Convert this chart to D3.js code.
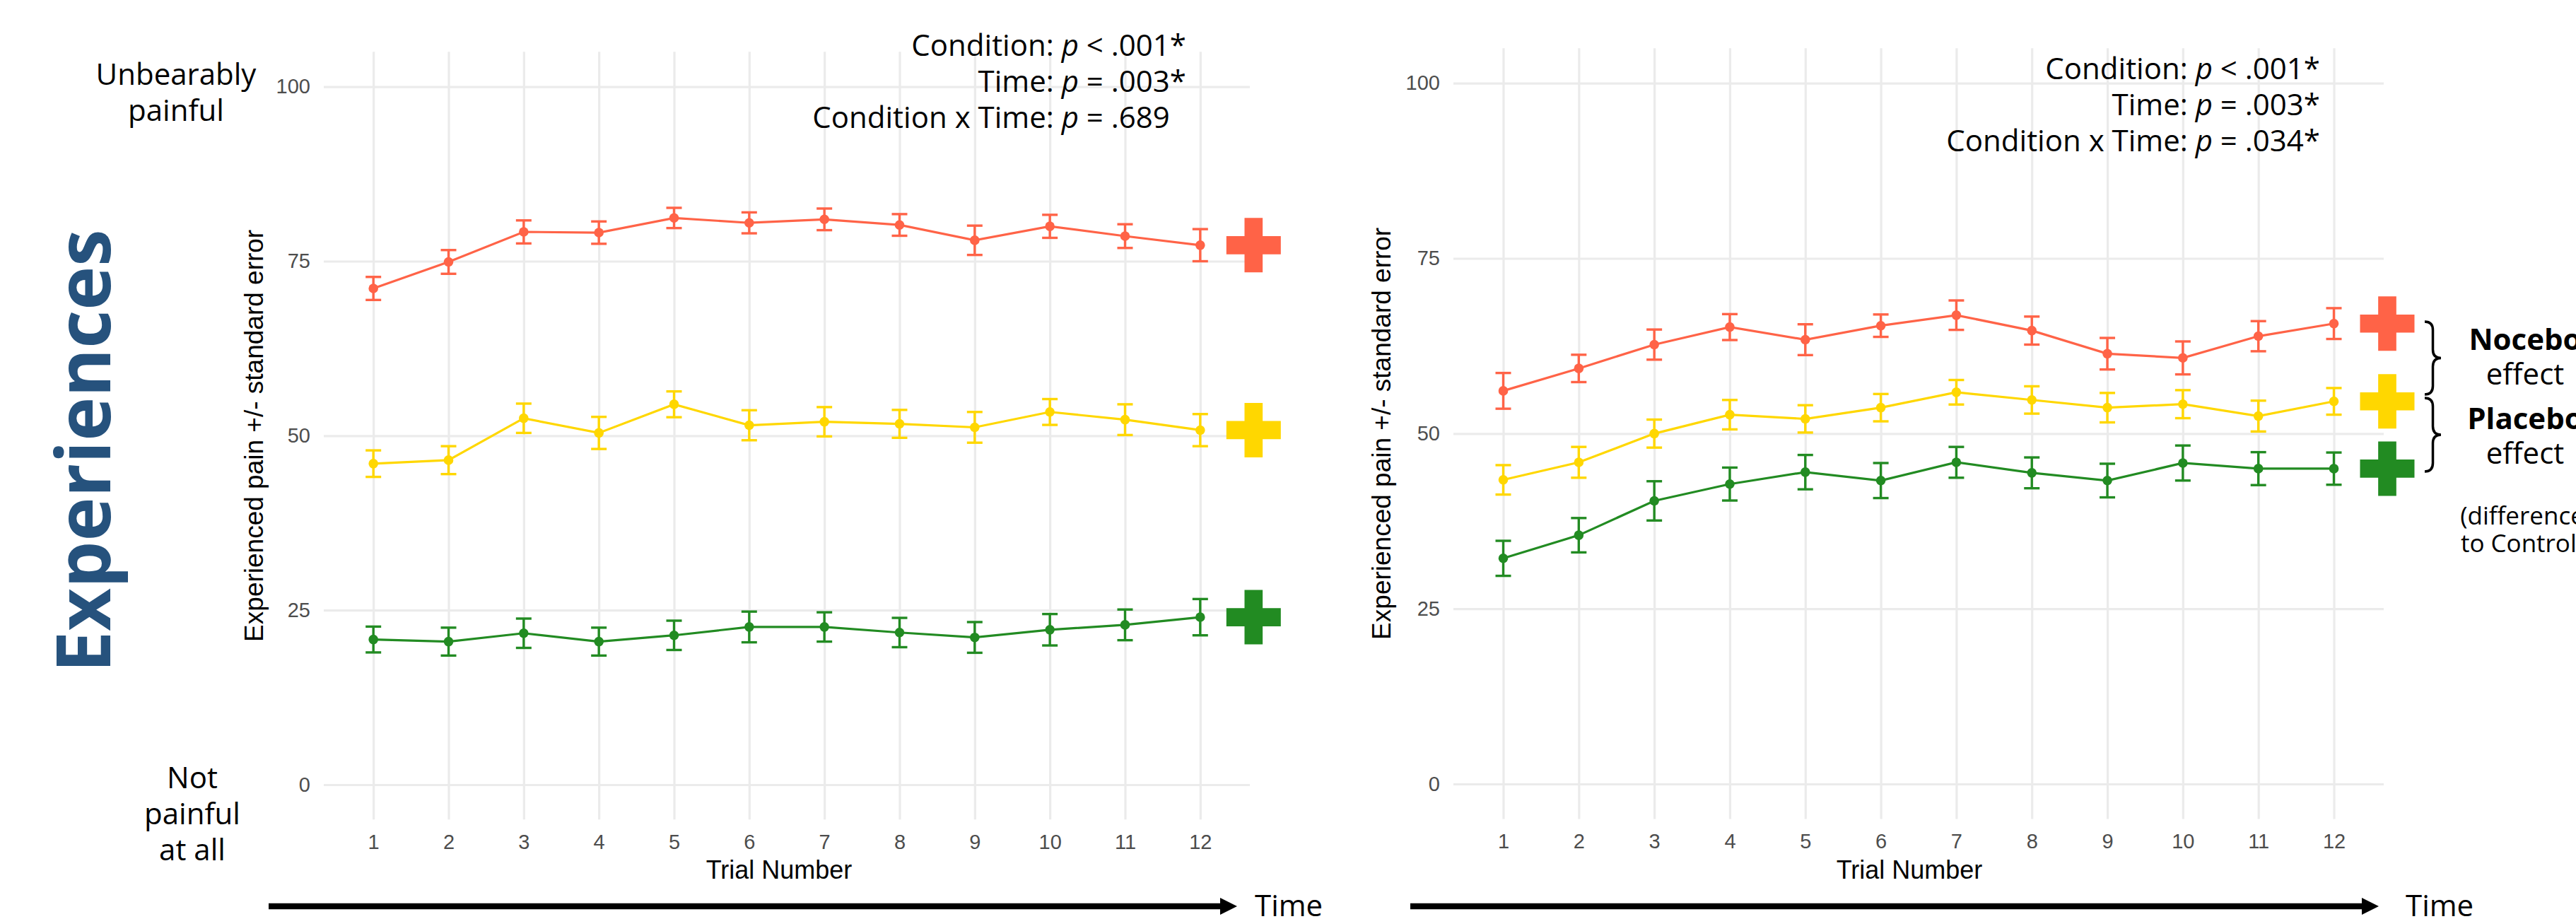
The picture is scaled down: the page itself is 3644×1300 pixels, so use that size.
<!DOCTYPE html>
<html>
<head>
<meta charset="utf-8">
<script src="https://cdn.jsdelivr.net/npm/d3@7"></script>
<style>
  html, body { margin: 0; padding: 0; background: #ffffff; }
  svg { display: block; }
</style>
</head>
<body>
<svg id="chart" width="3644" height="1300"></svg>
<script>
// ---------------- DATA ----------------
const trials = [1, 2, 3, 4, 5, 6, 7, 8, 9, 10, 11, 12];
const yTicks = [0, 25, 50, 75, 100];
const conditions = ["Nocebo", "Placebo", "Control"];
const conditionColors = ["#FF6347", "#FFD700", "#228B22"];

// Left panel (Condition x Time: p = .689)
const leftNocebo    = [71.1, 74.9, 79.2, 79.1, 81.2, 80.5, 81.0, 80.2, 78.0, 80.0, 78.6, 77.3];
const leftNoceboSE  = [1.65, 1.70, 1.65, 1.60, 1.45, 1.50, 1.55, 1.55, 2.10, 1.65, 1.70, 2.30];
const leftPlacebo   = [46.0, 46.5, 52.5, 50.4, 54.5, 51.5, 52.0, 51.7, 51.2, 53.4, 52.3, 50.8];
const leftPlaceboSE = [1.90, 2.00, 2.10, 2.30, 1.85, 2.15, 2.10, 2.00, 2.20, 1.85, 2.20, 2.30];
const leftControl   = [20.8, 20.5, 21.7, 20.5, 21.4, 22.6, 22.6, 21.8, 21.1, 22.2, 22.9, 24.0];
const leftControlSE = [1.85, 2.00, 2.10, 2.00, 2.10, 2.20, 2.10, 2.10, 2.20, 2.25, 2.20, 2.60];

// Right panel (Condition x Time: p = .034*)
const rightNocebo    = [56.1, 59.3, 62.7, 65.2, 63.4, 65.4, 66.9, 64.7, 61.4, 60.8, 63.9, 65.7];
const rightNoceboSE  = [2.55, 1.95, 2.15, 1.85, 2.20, 1.60, 2.10, 2.00, 2.25, 2.35, 2.15, 2.20];
const rightPlacebo   = [43.4, 45.9, 50.0, 52.7, 52.1, 53.7, 55.9, 54.8, 53.7, 54.2, 52.5, 54.6];
const rightPlaceboSE = [2.10, 2.20, 2.00, 2.10, 1.95, 1.95, 1.75, 1.95, 2.10, 2.00, 2.20, 1.90];
const rightControl   = [32.2, 35.5, 40.4, 42.8, 44.5, 43.3, 45.9, 44.4, 43.3, 45.8, 45.0, 45.0];
const rightControlSE = [2.50, 2.45, 2.80, 2.35, 2.45, 2.50, 2.20, 2.20, 2.40, 2.50, 2.35, 2.30];

const leftStats  = ["Condition: |p| < .001*", "Time: |p| = .003*", "Condition x Time: |p| = .689"];
const rightStats = ["Condition: |p| < .001*", "Time: |p| = .003*", "Condition x Time: |p| = .034*"];

const xTitle = "Trial Number";
const yTitle = "Experienced pain +/- standard error";

// ---------------- DRAWING ----------------
const svg = d3.select("#chart");
const ARIAL = "'Liberation Sans', Arial, sans-serif";
const OPEN = "'Open Sans', 'Noto Sans', sans-serif";

function drawPanel(cfg) {
  const g = svg.append("g");
  const x = d3.scaleLinear().domain([0.34, 12.66]).range([cfg.x0, cfg.x1]);
  const y = d3.scaleLinear().domain([0, 100]).range([cfg.y0, cfg.y100]);
  const top = y(105), bottom = y(-5);

  // horizontal grid + y labels
  const yAxis = d3.axisLeft(y).tickValues(yTicks).tickSize(-(cfg.x1 - cfg.x0)).tickPadding(19);
  const ya = g.append("g").attr("transform", `translate(${cfg.x0},0)`).call(yAxis);
  ya.select(".domain").remove();
  ya.selectAll(".tick line").attr("stroke", "#EBEBEB").attr("stroke-width", 3.2);
  ya.selectAll(".tick text").attr("font-family", ARIAL).attr("font-size", 29).attr("fill", "#4D4D4D");

  // vertical grid + x labels
  const xAxis = d3.axisBottom(x).tickValues(trials).tickSize(-(bottom - top)).tickPadding(21);
  const xa = g.append("g").attr("transform", `translate(0,${bottom})`).call(xAxis);
  xa.select(".domain").remove();
  xa.selectAll(".tick line").attr("stroke", "#EBEBEB").attr("stroke-width", 3.2);
  xa.selectAll(".tick text").attr("font-family", ARIAL).attr("font-size", 29).attr("fill", "#4D4D4D");

  // axis titles
  g.append("text").attr("x", cfg.xTitleX).attr("y", 1243)
    .attr("text-anchor", "middle").attr("font-family", ARIAL).attr("font-size", 36)
    .attr("fill", "#000").text(xTitle);
  g.append("text")
    .attr("transform", `translate(${cfg.yTitleX},${(top + bottom) / 2}) rotate(-90)`)
    .attr("text-anchor", "middle").attr("font-family", ARIAL).attr("font-size", 37)
    .attr("fill", "#000").text(yTitle);

  // series
  cfg.series.forEach((s, i) => {
    const col = conditionColors[i];
    const pts = trials.map((t, k) => ({ t, m: s.mean[k], se: s.se[k] }));
    const sg = g.append("g");
    // error bars
    const eb = sg.selectAll(".eb").data(pts).enter().append("g");
    eb.append("line").attr("x1", d => x(d.t)).attr("x2", d => x(d.t))
      .attr("y1", d => y(d.m - d.se)).attr("y2", d => y(d.m + d.se))
      .attr("stroke", col).attr("stroke-width", 3.4);
    eb.append("line").attr("x1", d => x(d.t) - 11).attr("x2", d => x(d.t) + 11)
      .attr("y1", d => y(d.m - d.se)).attr("y2", d => y(d.m - d.se))
      .attr("stroke", col).attr("stroke-width", 3.4);
    eb.append("line").attr("x1", d => x(d.t) - 11).attr("x2", d => x(d.t) + 11)
      .attr("y1", d => y(d.m + d.se)).attr("y2", d => y(d.m + d.se))
      .attr("stroke", col).attr("stroke-width", 3.4);
    // line
    sg.append("path").datum(pts)
      .attr("d", d3.line().x(d => x(d.t)).y(d => y(d.m)))
      .attr("fill", "none").attr("stroke", col).attr("stroke-width", 3.2);
    // points
    sg.selectAll("circle").data(pts).enter().append("circle")
      .attr("cx", d => x(d.t)).attr("cy", d => y(d.m)).attr("r", 6.8).attr("fill", col);
    // cross marker at end
    const last = pts[pts.length - 1];
    sg.append("path")
      .attr("d", d3.symbol(d3.symbolCross, 3294)())
      .attr("transform", `translate(${x(last.t) + 75.5},${y(last.m)})`)
      .attr("fill", col);
  });

  // stats annotation (right-aligned, italic p)
  const starProbe = svg.append("text").attr("font-family", OPEN).attr("font-size", 42).text("*");
  const starW = starProbe.node().getComputedTextLength();
  starProbe.remove();
  const st = g.append("text")
    .attr("text-anchor", "end").attr("font-family", OPEN).attr("font-size", 42).attr("fill", "#000");
  cfg.stats.forEach((line, i) => {
    const parts = line.split("|");
    const hasStar = line.endsWith("*");
    const t = st.append("tspan")
      .attr("x", hasStar ? cfg.statX : cfg.statX - starW)
      .attr("y", cfg.statY + i * 50.8);
    t.append("tspan").text(parts[0]);
    t.append("tspan").attr("font-style", "italic").text(parts[1]);
    t.append("tspan").text(parts[2]);
  });

  // time arrow
  g.append("line").attr("x1", cfg.arrowX0).attr("x2", cfg.arrowX1 - 20)
    .attr("y1", 1282).attr("y2", 1282).attr("stroke", "#000").attr("stroke-width", 8.5);
  g.append("path")
    .attr("d", `M${cfg.arrowX1},1282 L${cfg.arrowX1 - 24},1270 L${cfg.arrowX1 - 24},1294 Z`)
    .attr("fill", "#000");
  g.append("text").attr("x", cfg.timeX).attr("y", 1296)
    .attr("font-family", OPEN).attr("font-size", 42).attr("fill", "#000").text("Time");

  return { x, y };
}

drawPanel({
  x0: 458, x1: 1768, y0: 1110, y100: 122.7,
  xTitleX: 1102, yTitleX: 372,
  statX: 1678, statY: 79,
  stats: leftStats,
  arrowX0: 380, arrowX1: 1750, timeX: 1775,
  series: [
    { mean: leftNocebo, se: leftNoceboSE },
    { mean: leftPlacebo, se: leftPlaceboSE },
    { mean: leftControl, se: leftControlSE }
  ]
});

drawPanel({
  x0: 2056, x1: 3372, y0: 1109, y100: 117.7,
  xTitleX: 2701, yTitleX: 1967,
  statX: 3282, statY: 112,
  stats: rightStats,
  arrowX0: 1995, arrowX1: 3365, timeX: 3403,
  series: [
    { mean: rightNocebo, se: rightNoceboSE },
    { mean: rightPlacebo, se: rightPlaceboSE },
    { mean: rightControl, se: rightControlSE }
  ]
});

// Big side title
svg.append("text")
  .attr("transform", "translate(156,638) rotate(-90)")
  .attr("text-anchor", "middle").attr("font-family", OPEN).attr("font-weight", 700)
  .attr("font-size", 105).attr("fill", "#26527D").text("Experiences");

// Scale anchors
const anchorText = [
  { lines: ["Unbearably", "painful"], x: 249, y: 120 },
  { lines: ["Not", "painful", "at all"], x: 272, y: 1115 }
];
anchorText.forEach(a => {
  const t = svg.append("text").attr("text-anchor", "middle").attr("font-family", OPEN)
    .attr("font-size", 42).attr("fill", "#000");
  a.lines.forEach((l, i) => t.append("tspan").attr("x", a.x).attr("y", a.y + i * 51).text(l));
});

// Braces
function brace(x0, y0, y1, w) {
  const a = w * 0.5, r = 12, ym = (y0 + y1) / 2;
  return `M${x0},${y0} Q${x0 + a},${y0} ${x0 + a},${y0 + r} L${x0 + a},${ym - r} ` +
         `Q${x0 + a},${ym} ${x0 + w},${ym} Q${x0 + a},${ym} ${x0 + a},${ym + r} ` +
         `L${x0 + a},${y1 - r} Q${x0 + a},${y1} ${x0},${y1}`;
}
svg.append("path").attr("d", brace(3430, 455, 558, 23))
  .attr("fill", "none").attr("stroke", "#000").attr("stroke-width", 3.5);
svg.append("path").attr("d", brace(3430, 563, 667, 23))
  .attr("fill", "none").attr("stroke", "#000").attr("stroke-width", 3.5);

// Effect labels (one text block, several lines)
const effects = [
  { name: "Nocebo", y: 495 },
  { name: "Placebo", y: 607 }
];
const eff = svg.append("text").attr("text-anchor", "middle").attr("font-family", OPEN)
  .attr("font-size", 42).attr("fill", "#000");
effects.forEach(e => {
  eff.append("tspan").attr("x", 3572).attr("y", e.y).attr("font-weight", 700).text(e.name);
  eff.append("tspan").attr("x", 3572).attr("y", e.y + 49).text("effect");
});
const note = svg.append("text").attr("text-anchor", "middle").attr("font-family", OPEN)
  .attr("font-size", 35).attr("fill", "#000");
note.append("tspan").attr("x", 3568).attr("y", 742).text("(difference");
note.append("tspan").attr("x", 3568).attr("y", 781).text("to Control)");
</script>
</body>
</html>
